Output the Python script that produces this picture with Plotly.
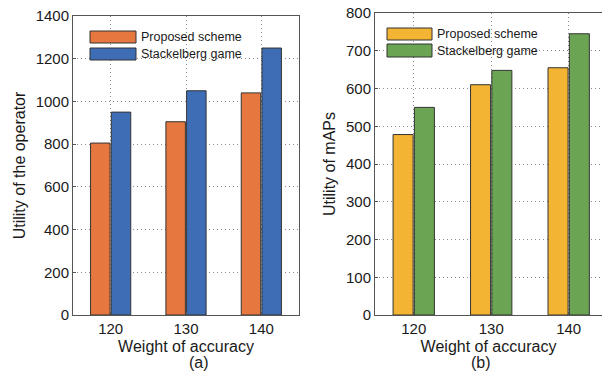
import plotly.graph_objects as go

categories = [120, 130, 140]
tick_labels = ["120", "130", "140"]
operator_proposed = [805, 905, 1040]
operator_stackelberg = [950, 1050, 1250]
maps_proposed = [478, 610, 655]
maps_stackelberg = [550, 648, 745]
series_names = ["Proposed scheme", "Stackelberg game"]

W, H = 602, 380
C_OR, C_BL, C_YE, C_GR = "#E5773F", "#3E6DB5", "#F4B433", "#6BA553"
EDGE = dict(color="#333333", width=1)
FONT = "Liberation Sans, Arial, sans-serif"
TXT = "#1a1a1a"

fig = go.Figure()
fig.add_trace(go.Bar(x=categories, y=operator_proposed, name=series_names[0],
                     marker=dict(color=C_OR, line=EDGE), xaxis="x", yaxis="y", showlegend=False))
fig.add_trace(go.Bar(x=categories, y=operator_stackelberg, name=series_names[1],
                     marker=dict(color=C_BL, line=EDGE), xaxis="x", yaxis="y", showlegend=False))
fig.add_trace(go.Bar(x=categories, y=maps_proposed, name=series_names[0],
                     marker=dict(color=C_YE, line=EDGE), xaxis="x2", yaxis="y2", showlegend=False))
fig.add_trace(go.Bar(x=categories, y=maps_stackelberg, name=series_names[1],
                     marker=dict(color=C_GR, line=EDGE), xaxis="x2", yaxis="y2", showlegend=False))

def px(x):
    return x / W

def py(y):
    return 1 - y / H

def axis_style(mirror=True):
    return dict(showline=True, linecolor="#555555", linewidth=1, mirror=mirror,
                showgrid=True, gridcolor="#8c8c8c", griddash="1px,3px", gridwidth=1,
                zeroline=False, ticks="inside", ticklen=3, tickcolor="#555555",
                automargin=False,
                tickfont=dict(family=FONT, size=15, color=TXT))

fig.update_layout(
    width=W, height=H, margin=dict(l=0, r=0, t=0, b=0, autoexpand=False),
    paper_bgcolor="white", plot_bgcolor="white",
    barmode="group", bargap=0.45, bargroupgap=0.06,
    font=dict(family=FONT, color=TXT),
    xaxis=dict(domain=[px(73), px(299)], range=[115, 145], tickvals=categories,
               ticktext=tick_labels, anchor="y",
               title=dict(text="Weight of accuracy", font=dict(size=16, family=FONT, color=TXT), standoff=4),
               **axis_style()),
    yaxis=dict(domain=[py(315), py(16)], range=[0, 1400], dtick=200, anchor="x",
               title=dict(text="Utility of the operator", font=dict(size=16, family=FONT, color=TXT), standoff=6),
               **axis_style()),
    xaxis2=dict(domain=[px(375), 1.0], range=[115, 144.3], tickvals=categories,
                ticktext=tick_labels, anchor="y2",
                title=dict(text="Weight of accuracy", font=dict(size=16, family=FONT, color=TXT), standoff=4),
                **axis_style()),
    yaxis2=dict(domain=[py(315), py(13)], range=[0, 800], dtick=100, anchor="x2",
                title=dict(text="Utility of mAPs", font=dict(size=16, family=FONT, color=TXT), standoff=6),
                **axis_style(mirror=False)),
)

# panel labels
fig.add_annotation(text="(a)", x=px(187), y=py(362), xref="paper", yref="paper",
                   yanchor="middle", showarrow=False, font=dict(size=16, family=FONT, color=TXT))
fig.add_annotation(text="(b)", x=px(493), y=py(362), xref="paper", yref="paper",
                   yanchor="middle", showarrow=False, font=dict(size=16, family=FONT, color=TXT))

# legends (drawn as swatches + text)
def legend(x0, x1, rows, colors):
    for (y0, y1), c, name in zip(rows, colors, series_names):
        fig.add_shape(type="rect", xref="paper", yref="paper",
                      x0=px(x0), x1=px(x1), y0=py(y1), y1=py(y0),
                      fillcolor=c, line=dict(color="#333333", width=1))
        fig.add_annotation(text=name, x=px(x1 + 3), y=py((y0 + y1) / 2), xref="paper", yref="paper",
                           xanchor="left", yanchor="middle", showarrow=False,
                           font=dict(size=12.5, family=FONT, color=TXT))

legend(90, 136, [(31, 43), (48, 60)], [C_OR, C_BL])
legend(387, 432, [(28, 40), (44, 57)], [C_YE, C_GR])

fig.write_html("out.html", config={"displayModeBar": False},
               post_script="document.body.style.margin='0';")
